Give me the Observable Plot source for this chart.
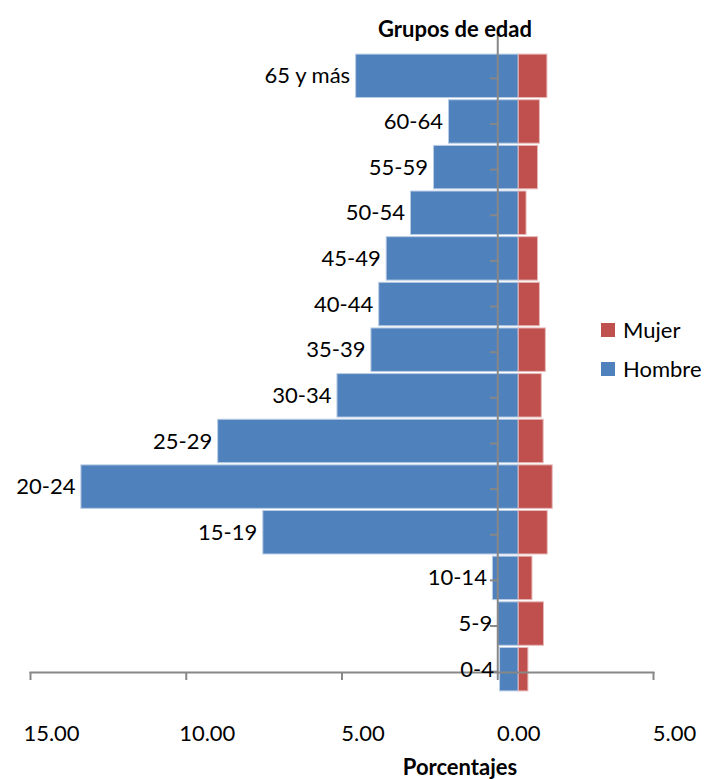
<!DOCTYPE html>
<html>
<head>
<meta charset="utf-8">
<script src="https://cdn.jsdelivr.net/npm/d3@7"></script>
<script src="https://cdn.jsdelivr.net/npm/@observablehq/plot@0.6"></script>
<style>
  html, body { margin: 0; padding: 0; background: #fff; }
  #wrap { position: relative; width: 705px; height: 779px; font-family: Lato, "Open Sans", sans-serif; color: #000; }
  #chart { position: absolute; left: 0; top: 0; }
  #chart svg { display: block; }
  .title { position: absolute; font-weight: bold; font-size: 22px; white-space: nowrap; transform: translate(-50%, -50%); }
  .leg { position: absolute; font-size: 22px; white-space: nowrap; display: flex; align-items: center; }
  .sw { width: 14px; height: 14px; margin-right: 8px; display: inline-block; }
</style>
</head>
<body>
<div id="wrap">
  <div id="chart"></div>
  <div class="title" style="left:455px; top:28px;">Grupos de edad</div>
  <div class="title" style="left:460px; top:766px;">Porcentajes</div>
  <div class="leg" style="left:601px; top:316px;"><span class="sw" style="background:#C0504D"></span>Mujer</div>
  <div class="leg" style="left:601px; top:355px;"><span class="sw" style="background:#4F81BD"></span>Hombre</div>
</div>
<script>
const grupos = ["65 y más","60-64","55-59","50-54","45-49","40-44","35-39","30-34","25-29","20-24","15-19","10-14","5-9","0-4"];
const hombre = [5.22, 2.24, 2.72, 3.46, 4.24, 4.48, 4.73, 5.82, 9.65, 14.04, 8.20, 0.83, 0.66, 0.60];
const mujer  = [0.92, 0.68, 0.62, 0.25, 0.62, 0.68, 0.87, 0.74, 0.80, 1.09, 0.93, 0.44, 0.81, 0.31];
const xTicks = [-15, -10, -5, 0, 5];

const data = grupos.map((g, i) => ({grupo: g, hombre: hombre[i], mujer: mujer[i]}));
const gray = "#878787";

const chart = Plot.plot({
  width: 705,
  height: 779,
  marginLeft: 51,
  marginRight: 31,
  marginTop: 53,
  marginBottom: 87,
  style: {fontFamily: "Lato, 'Open Sans', sans-serif", fontSize: "22px", color: "#000", background: "#fff"},
  x: {domain: [-15, 5], axis: null},
  y: {domain: grupos, axis: null, padding: 0, round: false},
  marks: [
    Plot.barX(data, {y: "grupo", x1: d => -d.hombre, x2: 0, insetTop: 1.1, insetBottom: 1.1, fill: "#4F81BD", stroke: "#b9cde5", strokeWidth: 1}),
    Plot.barX(data, {y: "grupo", x1: 0, x2: "mujer", insetTop: 1.1, insetBottom: 1.1, fill: "#C0504D", stroke: "#e6b9b8", strokeWidth: 1}),
    Plot.ruleX([0], {dx: -21, dy: -20, stroke: gray, strokeWidth: 2}),
    Plot.frame({anchor: "bottom", dx: -21, dy: -20, stroke: gray, strokeWidth: 2}),
    Plot.axisX({anchor: "bottom", ticks: xTicks, tickSize: 8, tickFormat: () => "", dx: -21, dy: -20, stroke: gray, strokeWidth: 2, label: null}),
    Plot.axisX({anchor: "bottom", ticks: xTicks, tickSize: 0, tickPadding: 33, tickFormat: d => Math.abs(d).toFixed(2), fontSize: 22, fill: "#000", label: null}),
    Plot.axisY({anchor: "left", tickSize: 7, tickFormat: () => "", dx: 446, dy: 2, stroke: gray, strokeWidth: 2, label: null}),
    Plot.text(data, {y: "grupo", x: d => -d.hombre, text: "grupo", textAnchor: "end", dx: -6, fontSize: 22, fill: "#000"})
  ]
});
document.getElementById("chart").appendChild(chart);
</script>
</body>
</html>
